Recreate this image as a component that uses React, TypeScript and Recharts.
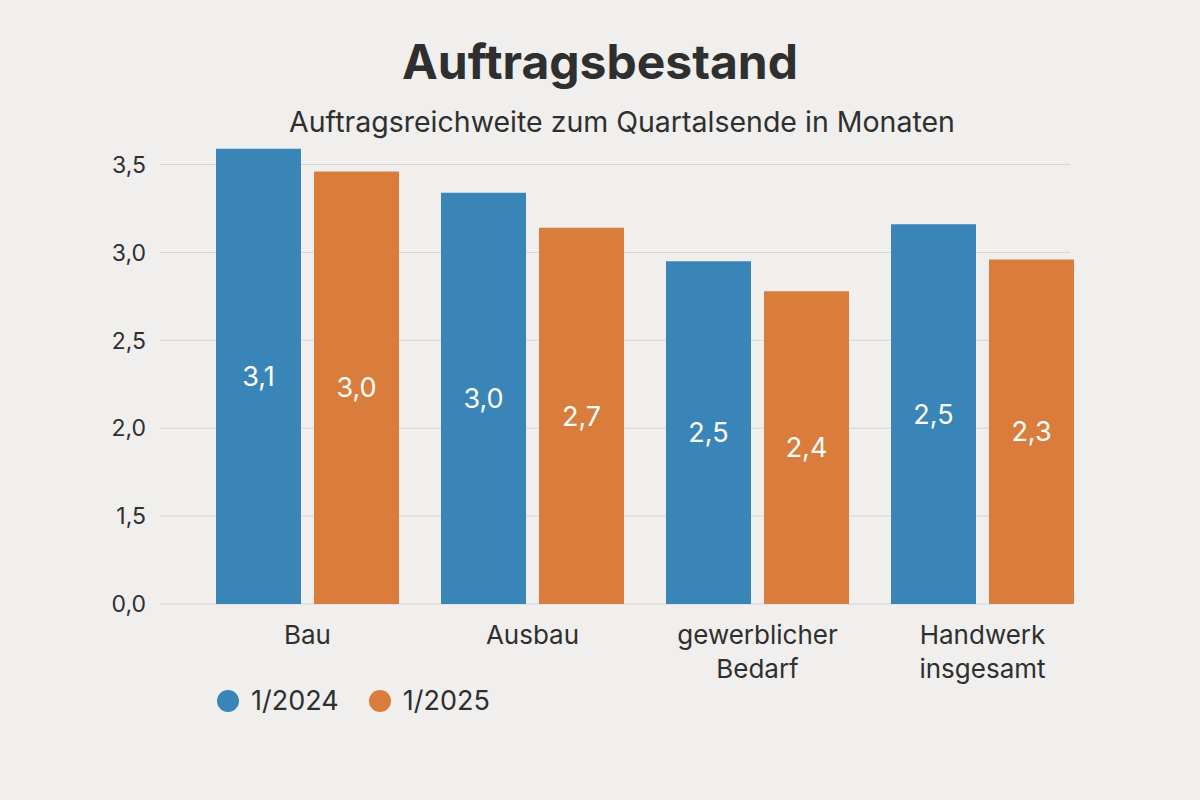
import React from "react";
import { Bar, BarChart, CartesianGrid, LabelList, XAxis, YAxis } from "recharts";

// categories and series
const categories = ["Bau", "Ausbau", "gewerblicher\nBedarf", "Handwerk\ninsgesamt"];
const seriesNames = ["1/2024", "1/2025"];
const colors = ["#3a85b8", "#d97c3c"];

// bar heights as drawn on the (uneven) axis
const values2024 = [3.59, 3.34, 2.95, 3.16];
const values2025 = [3.46, 3.14, 2.78, 2.96];

// printed value labels
const labels2024 = ["3,1", "3,0", "2,5", "2,5"];
const labels2025 = ["3,0", "2,7", "2,4", "2,3"];

// axis ticks (lowest step is labelled 0,0)
const yTicks = [1, 1.5, 2, 2.5, 3, 3.5];
const yTickLabels = ["0,0", "1,5", "2,0", "2,5", "3,0", "3,5"];

const data = categories.map((name, i) => ({
  name,
  v2024: values2024[i],
  v2025: values2025[i],
  l2024: labels2024[i],
  l2025: labels2025[i],
}));

const FONT = "Inter, 'Open Sans', sans-serif";

const CategoryTick = (props: any) => {
  const { x, y, payload } = props;
  const lines = String(payload.value).split("\n");
  return (
    <text x={x} y={y + 32} textAnchor="middle" fill="#2f2f2f" fontSize={26} fontFamily={FONT}>
      {lines.map((l, i) => (
        <tspan key={i} x={x} dy={i === 0 ? 0 : 34}>
          {l}
        </tspan>
      ))}
    </text>
  );
};

export default function App() {
  return (
    <div
      style={{
        position: "absolute",
        left: 0,
        top: 0,
        width: 1200,
        height: 800,
        background: "#f0efed",
        fontFamily: FONT,
      }}
    >
      <div
        style={{
          position: "absolute",
          top: 32,
          width: 1200,
          textAlign: "center",
          fontSize: 48,
          fontWeight: 700,
          color: "#2f2f2f",
        }}
      >
        Auftragsbestand
      </div>
      <div
        style={{
          position: "absolute",
          top: 104,
          left: 22,
          width: 1200,
          textAlign: "center",
          fontSize: 28.5,
          color: "#2f2f2f",
        }}
      >
        Auftragsreichweite zum Quartalsende in Monaten
      </div>

      <div style={{ position: "absolute", left: 0, top: 0 }}>
        <BarChart
          width={1200}
          height={800}
          data={data}
          margin={{ top: 147, right: 105, bottom: 136, left: 100 }}
          barSize={85}
          barGap={13}
        >
          <CartesianGrid vertical={false} stroke="#d6d5d3" x={160} width={910} syncWithTicks />
          <XAxis
            dataKey="name"
            axisLine={false}
            tickLine={false}
            height={60}
            padding={{ left: 35, right: 0 }}
            tick={<CategoryTick />}
            interval={0}
          />
          <YAxis
            domain={[1, 3.6]}
            ticks={yTicks}
            width={60}
            axisLine={false}
            tickLine={false}
            tick={{ fill: "#2f2f2f", fontSize: 23, fontFamily: FONT, dx: -6 }}
            tickFormatter={(v: number) => yTickLabels[yTicks.indexOf(v)]}
          />
          <Bar dataKey="v2024" fill={colors[0]} isAnimationActive={false}>
            <LabelList dataKey="l2024" position="center" fill="#ffffff" fontSize={27} fontFamily={FONT} />
          </Bar>
          <Bar dataKey="v2025" fill={colors[1]} isAnimationActive={false}>
            <LabelList dataKey="l2025" position="center" fill="#ffffff" fontSize={27} fontFamily={FONT} />
          </Bar>
        </BarChart>
      </div>

      <div
        style={{
          position: "absolute",
          left: 217,
          top: 684,
          display: "flex",
          alignItems: "center",
          fontSize: 27,
          color: "#2f2f2f",
        }}
      >
        {seriesNames.map((s, i) => (
          <div key={s} style={{ display: "flex", alignItems: "center", marginRight: 30 }}>
            <span
              style={{
                display: "inline-block",
                width: 22,
                height: 22,
                borderRadius: 11,
                background: colors[i],
                marginRight: 12,
              }}
            />
            {s}
          </div>
        ))}
      </div>
    </div>
  );
}
